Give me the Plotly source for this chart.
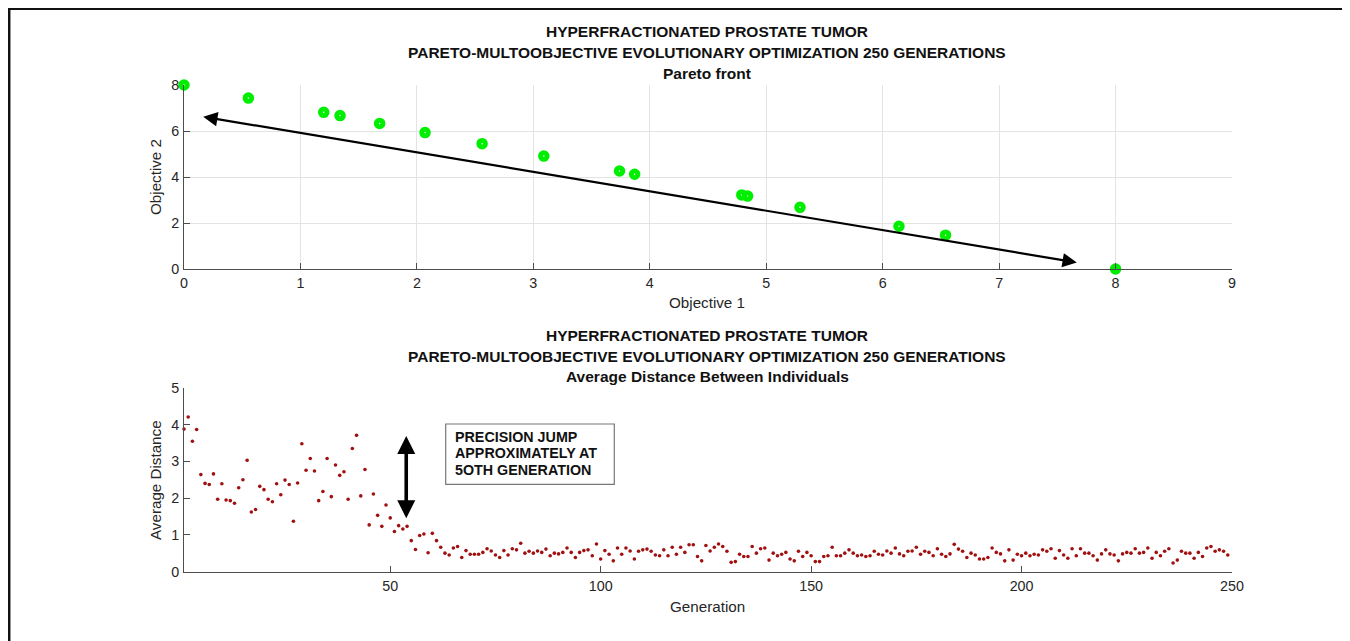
import plotly.graph_objects as go

# ---------------- data ----------------
obj1 = [0.0, 0.553, 1.20, 1.34, 1.68, 2.07, 2.56, 3.09, 3.74, 3.87, 4.79, 4.84, 5.29, 6.14, 6.54, 8.0]
obj2 = [8.0, 7.43, 6.81, 6.67, 6.33, 5.93, 5.45, 4.91, 4.26, 4.12, 3.22, 3.17, 2.68, 1.86, 1.47, 0.0]

avg_dist = [
    3.88, 4.21, 3.55, 3.87, 2.64, 2.40, 2.37, 2.66, 1.97, 2.39,
    1.95, 1.93, 1.86, 2.28, 2.50, 3.03, 1.62, 1.69, 2.32, 2.23,
    1.97, 1.90, 2.39, 2.09, 2.49, 2.37, 1.37, 2.41, 3.48, 2.76,
    3.08, 2.74, 1.93, 2.18, 3.08, 2.04, 2.90, 2.62, 2.72, 1.97,
    3.35, 3.71, 2.06, 2.78, 1.27, 2.11, 1.53, 1.23, 1.81, 1.46,
    1.09, 1.25, 1.16, 1.23, 0.84, 0.60, 0.98, 1.02, 0.51, 1.04,
    0.84, 0.66,
    0.50, 0.45, 0.64, 0.68, 0.38, 0.57, 0.47, 0.47, 0.47, 0.52,
    0.62, 0.56, 0.45, 0.38, 0.57, 0.45, 0.62, 0.59, 0.77, 0.50,
    0.55, 0.50, 0.56, 0.52, 0.61, 0.43, 0.50, 0.48, 0.52, 0.64,
    0.52, 0.38, 0.52, 0.57, 0.59, 0.43, 0.75, 0.34, 0.57, 0.47,
    0.29, 0.64, 0.47, 0.64, 0.56, 0.34, 0.55,
    0.59, 0.61, 0.55, 0.45, 0.43, 0.59, 0.43, 0.66, 0.47, 0.66,
    0.52, 0.73, 0.73, 0.41, 0.29, 0.71, 0.56, 0.66, 0.75, 0.68,
    0.55, 0.25, 0.27, 0.47, 0.41, 0.41, 0.68, 0.50, 0.62, 0.64,
    0.31, 0.50, 0.43, 0.47, 0.52, 0.34, 0.29, 0.55, 0.41, 0.52,
    0.43, 0.27, 0.27, 0.41, 0.43, 0.66, 0.43, 0.43,
    0.50, 0.59, 0.50, 0.43, 0.45, 0.41, 0.43, 0.55, 0.47, 0.45,
    0.56, 0.50, 0.64, 0.48, 0.43, 0.55, 0.56, 0.66, 0.47, 0.55,
    0.52, 0.43, 0.62, 0.47, 0.41, 0.48, 0.74, 0.61, 0.55, 0.38,
    0.50, 0.45, 0.34, 0.34, 0.38, 0.64, 0.52, 0.48, 0.29, 0.59,
    0.31, 0.47, 0.43, 0.50, 0.43,
    0.47, 0.45, 0.59, 0.55, 0.62, 0.36, 0.57, 0.45, 0.36, 0.62,
    0.43, 0.62, 0.50, 0.50, 0.43, 0.31, 0.48, 0.59, 0.48, 0.45,
    0.29, 0.48, 0.52, 0.50, 0.62, 0.50, 0.52, 0.64, 0.36, 0.52,
    0.43, 0.55, 0.62, 0.23, 0.31, 0.55, 0.50, 0.50, 0.36, 0.52,
    0.41, 0.64, 0.68, 0.55, 0.59, 0.55, 0.45,
]
generation = list(range(1, len(avg_dist) + 1))

title_l1 = "HYPERFRACTIONATED PROSTATE TUMOR"
title_l2 = "PARETO-MULTOOBJECTIVE EVOLUTIONARY OPTIMIZATION 250 GENERATIONS"
top_sub = "Pareto front"
bot_sub = "Average Distance Between Individuals"
box_lines = ["PRECISION JUMP", "APPROXIMATELY AT", "5OTH GENERATION"]

# ---------------- layout helpers ----------------
OFF = 8                      # page body margin
W, H = 1350 - OFF, 641 - OFF
ML = 184 - OFF
MR = W - (1232 - OFF)
PW = W - ML - MR


def px(x):
    return (x - OFF - ML) / PW


def py(y):
    return (H - (y - OFF)) / H


FONT = "Liberation Sans, Arial, sans-serif"
TXT = "#262626"
AX = "#4d4d4d"

fig = go.Figure()
fig.add_trace(go.Scatter(
    x=obj1, y=obj2, mode="markers", xaxis="x", yaxis="y",
    marker=dict(symbol="circle-open", size=6.5, color="#00ee00",
                line=dict(width=5, color="#00ee00")),
    showlegend=False, cliponaxis=False))
fig.add_trace(go.Scatter(
    x=generation, y=avg_dist, mode="markers", xaxis="x2", yaxis="y2",
    marker=dict(symbol="circle", size=3.6, color="#a01010"),
    showlegend=False, cliponaxis=False))

axis_common = dict(showline=True, linecolor=AX, linewidth=1, ticks="inside",
                   ticklen=6, tickcolor=AX, mirror=False, zeroline=False,
                   tickfont=dict(family=FONT, size=14.3, color=TXT),
                   automargin=False, ticklabelstandoff=1)

fig.update_layout(
    width=W, height=H,
    margin=dict(l=ML, r=MR, t=0, b=0),
    paper_bgcolor="#ebebeb", plot_bgcolor="rgba(0,0,0,0)",
    showlegend=False,
    xaxis=dict(domain=[0, 1], anchor="y", range=[0, 9], tickvals=list(range(0, 10)),
               showgrid=True, gridcolor="#e3e3e3", **axis_common),
    yaxis=dict(domain=[py(269), py(85)], anchor="x", range=[0, 8], tickvals=[0, 2, 4, 6, 8],
               showgrid=True, gridcolor="#e3e3e3", **axis_common),
    xaxis2=dict(domain=[0, 1], anchor="y2", range=[1, 250], tickvals=[50, 100, 150, 200, 250],
                showgrid=False, **axis_common),
    yaxis2=dict(domain=[py(571.5), py(388)], anchor="x2", range=[0, 5], tickvals=[0, 1, 2, 3, 4, 5],
                showgrid=False, **axis_common),
)

# white frame with black border
fig.add_shape(type="rect", xref="paper", yref="paper",
              x0=px(9.2), x1=px(1344), y0=py(680), y1=py(8.8),
              line=dict(color="#111111", width=2.5), fillcolor="white", layer="below")

anns = []


def text(xp, yp, t, size=14, bold=False, angle=0, xanchor="center"):
    anns.append(dict(xref="paper", yref="paper", x=px(xp), y=py(yp), text=(f"<b>{t}</b>" if bold else t),
                     showarrow=False, xanchor=xanchor, yanchor="middle", textangle=angle,
                     font=dict(family=FONT, size=size, color="#111111" if bold else TXT)))


# titles
TS = 15.5
text(707, 32, title_l1, TS, True)
text(707, 52.5, title_l2, TS, True)
text(707, 73, top_sub, TS, True)
text(707, 335.5, title_l1, TS, True)
text(707, 356, title_l2, TS, True)
text(707, 376.5, bot_sub, TS, True)

# axis titles
text(707, 302, "Objective 1", 15.2)
text(155, 177, "Objective 2", 15.2, angle=-90)
text(707, 606, "Generation", 15.2)
text(155, 480, "Average Distance", 15.2, angle=-90)

# text box
for yy, line in zip([436.7, 453.3, 470.0], box_lines):
    text(452.5, yy, line, 14.3, True, xanchor="left")
fig.add_shape(type="rect", xref="paper", yref="paper",
              x0=px(445.7), x1=px(614.3), y0=py(484.3), y1=py(424),
              line=dict(color="#777777", width=1.2))

# double-headed arrows
anns.append(dict(xref="x", yref="y", axref="x", ayref="y",
                 x=0.165, y=6.62, ax=7.68, ay=0.27, text="", showarrow=True,
                 arrowhead=2, startarrowhead=2, arrowside="end+start",
                 arrowsize=1.3, startarrowsize=1.3, arrowwidth=2.2, arrowcolor="#000000",
                 standoff=0, startstandoff=0))
anns.append(dict(xref="x2", yref="y2", axref="x2", ayref="y2",
                 x=53.8, y=3.69, ax=53.8, ay=1.41, text="", showarrow=True,
                 arrowhead=2, startarrowhead=2, arrowside="end+start",
                 arrowsize=1.0, startarrowsize=1.0, arrowwidth=3.6, arrowcolor="#000000",
                 standoff=0, startstandoff=0))

fig.update_layout(annotations=anns)
fig.write_html("out.html")
